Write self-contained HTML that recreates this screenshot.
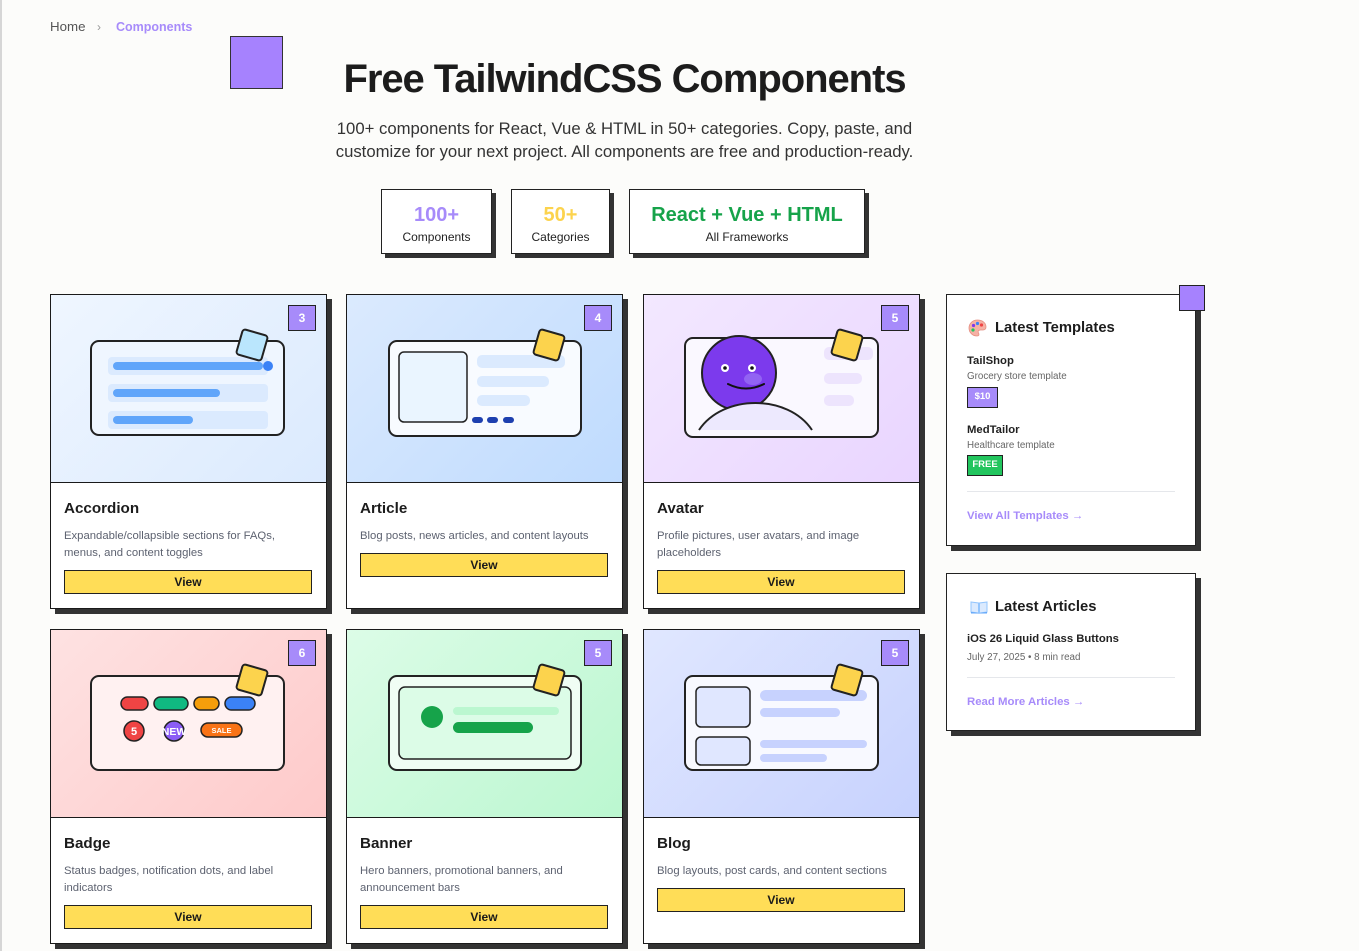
<!DOCTYPE html>
<html><head><meta charset="utf-8">
<style>
*{box-sizing:border-box;margin:0;padding:0}
html,body{width:1359px;height:951px;overflow:hidden}
body{background:#fcfcfa;font-family:"Liberation Sans",Arial,sans-serif;color:#1f1f1f;position:relative}
.abs{position:absolute}
.leftline{left:0;top:0;width:2px;height:951px;background:#d6d6d6}
.crumb{top:19px;left:50px;font-size:13.3px;line-height:16px;color:#555;white-space:nowrap}
.crumb .chev{position:absolute;left:47px;top:0;color:#999;font-size:12px}
.crumb .cur{position:absolute;left:66px;top:0;color:#a78bfa;font-weight:bold;font-size:12.5px}
.hsq{left:230px;top:36px;width:53px;height:53px;background:#a682fe;border:1px solid #333}
.title{left:50px;width:1149px;top:55px;text-align:center;font-size:40px;line-height:48px;font-weight:bold;letter-spacing:-1.05px;color:#1c1c1c;white-space:nowrap}
.sub{left:50px;width:1149px;top:117px;text-align:center;font-size:16.7px;line-height:23px;color:#333;white-space:nowrap}
.stat{top:189px;height:65px;background:#fff;border:1.5px solid #222;box-shadow:4px 4px 0 #333;text-align:center}
.stat .n{position:absolute;left:0;right:0;top:13px;font-size:20px;line-height:24px;font-weight:bold}
.stat .l{position:absolute;left:0;right:0;top:39px;font-size:12px;line-height:16px;color:#222}
.card{width:277px;height:315px;background:#fff;border:1px solid #1a1a1a;box-shadow:5px 5px 0 #333}
.card .img{position:absolute;left:0;top:0;width:275px;height:188px;border-bottom:1px solid #1a1a1a;overflow:hidden}
.card .img svg{position:absolute;left:0;top:0}
.card .num{position:absolute;left:237px;top:10px;width:28px;height:26px;background:#a78bfa;border:1px solid #222;color:#fff;font-weight:bold;font-size:12px;line-height:24px;text-align:center}
.card .body{position:absolute;left:0;top:188px;width:275px;padding:16px 13px 0 13px}
.card h3{font-size:15.2px;line-height:20px;font-weight:bold;color:#1c1c1c}
.card p{margin-top:9px;font-size:11.3px;line-height:17px;color:#5d6270;white-space:nowrap}
.card .btn{margin-top:8px;height:24px;width:248px;background:#ffdd57;border:1px solid #222;text-align:center;font-weight:bold;font-size:12px;line-height:22px;color:#1a1a1a}
.side{left:946px;width:250px;background:#fff;border:1.5px solid #222;box-shadow:5px 5px 0 #333}
.side .t{position:absolute;left:48px;top:23px;font-size:14.8px;line-height:20px;font-weight:bold;color:#1c1c1c;white-space:nowrap}
.side .b{position:absolute;left:20px;font-size:11.3px;line-height:16px;font-weight:bold;color:#222;white-space:nowrap}
.side .s{position:absolute;left:20px;font-size:9.8px;line-height:14px;color:#666;white-space:nowrap}
.side .tag{position:absolute;left:20px;border:1.5px solid #222;color:#fff;font-size:9.5px;font-weight:bold;text-align:center}
.side .hr{position:absolute;left:20px;width:208px;height:1px;background:#e5e7eb}
.side .lnk{position:absolute;left:20px;font-size:11.4px;line-height:16px;font-weight:bold;color:#a78bfa;white-space:nowrap}
.psq{left:1179px;top:285px;width:26px;height:26px;background:#a682fe;border:1px solid #222}
</style></head><body>
<div class="abs leftline"></div>

<div class="abs crumb">Home<span class="chev">›</span><span class="cur">Components</span></div>
<div class="abs hsq"></div>
<div class="abs title">Free TailwindCSS Components</div>
<div class="abs sub">100+ components for React, Vue &amp; HTML in 50+ categories. Copy, paste, and<br>customize for your next project. All components are free and production-ready.</div>

<div class="abs stat" style="left:381px;width:111px"><div class="n" style="color:#a78bfa">100+</div><div class="l">Components</div></div>
<div class="abs stat" style="left:511px;width:99px"><div class="n" style="color:#fcd34d">50+</div><div class="l">Categories</div></div>
<div class="abs stat" style="left:629px;width:236px"><div class="n" style="color:#16a34a">React + Vue + HTML</div><div class="l">All Frameworks</div></div>

<!-- Card 1 Accordion -->
<div class="abs card" style="left:50px;top:294px">
 <div class="img" style="background:linear-gradient(135deg,#eff6ff,#dbeafe)">
  <svg width="275" height="187" viewBox="1 1 275 187">
   <rect x="41" y="47" width="193" height="94" rx="8" fill="#eff6ff" stroke="#222" stroke-width="2"/>
   <rect x="58" y="63" width="160" height="18" rx="4" fill="#dbeafe"/>
   <rect x="58" y="90" width="160" height="18" rx="4" fill="#dbeafe"/>
   <rect x="58" y="117" width="160" height="18" rx="4" fill="#dbeafe"/>
   <rect x="63" y="68" width="150" height="8" rx="4" fill="#60a5fa"/>
   <rect x="63" y="95" width="107" height="8" rx="4" fill="#60a5fa"/>
   <rect x="63" y="122" width="80" height="8" rx="4" fill="#60a5fa"/>
   <circle cx="218" cy="72" r="5" fill="#3b82f6"/>
   <rect x="-13" y="-13" width="26" height="26" rx="3" transform="translate(202 51) rotate(16)" fill="#bae6fd" stroke="#222" stroke-width="2"/>
  </svg>
  <div class="num">3</div>
 </div>
 <div class="body"><h3>Accordion</h3><p>Expandable/collapsible sections for FAQs,<br>menus, and content toggles</p><div class="btn">View</div></div>
</div>

<!-- Card 2 Article -->
<div class="abs card" style="left:346px;top:294px">
 <div class="img" style="background:linear-gradient(135deg,#dbeafe,#bfdbfe)">
  <svg width="275" height="187" viewBox="1 1 275 187">
   <rect x="43" y="47" width="192" height="95" rx="8" fill="#f8fbff" stroke="#222" stroke-width="2"/>
   <rect x="53" y="58" width="68" height="70" rx="5" fill="#eaf5ff" stroke="#222" stroke-width="1.5"/>
   <rect x="131" y="61" width="88" height="13" rx="5" fill="#dbeafe"/>
   <rect x="131" y="82" width="72" height="11" rx="5" fill="#dbeafe"/>
   <rect x="131" y="101" width="53" height="11" rx="5" fill="#dbeafe"/>
   <rect x="126" y="123" width="11" height="6" rx="3" fill="#1e40af"/>
   <rect x="141" y="123" width="11" height="6" rx="3" fill="#1e40af"/>
   <rect x="157" y="123" width="11" height="6" rx="3" fill="#1e40af"/>
   <rect x="-13" y="-13" width="26" height="26" rx="3" transform="translate(203 51) rotate(16)" fill="#fcd34d" stroke="#222" stroke-width="2"/>
  </svg>
  <div class="num">4</div>
 </div>
 <div class="body"><h3>Article</h3><p>Blog posts, news articles, and content layouts</p><div class="btn">View</div></div>
</div>

<!-- Card 3 Avatar -->
<div class="abs card" style="left:643px;top:294px">
 <div class="img" style="background:linear-gradient(135deg,#f3e8ff,#e9d5ff)">
  <svg width="275" height="187" viewBox="1 1 275 187">
   <defs><clipPath id="fr"><rect x="43" y="45" width="191" height="97" rx="7"/></clipPath></defs>
   <rect x="42" y="44" width="193" height="99" rx="8" fill="#faf8ff" stroke="#222" stroke-width="2"/>
   <rect x="181" y="53" width="49" height="13" rx="5" fill="#ede4fd"/>
   <rect x="181" y="79" width="38" height="11" rx="5" fill="#ede4fd"/>
   <rect x="181" y="101" width="30" height="11" rx="5" fill="#ede4fd"/>
   <circle cx="96" cy="79" r="37" fill="#7c3aed" stroke="#222" stroke-width="2"/>
   <ellipse cx="110" cy="85" rx="9" ry="6" fill="#a78bfa" opacity="0.5"/>
   <circle cx="82" cy="74" r="4" fill="#fff"/><circle cx="82" cy="74" r="1.8" fill="#111"/>
   <circle cx="109" cy="74" r="4" fill="#fff"/><circle cx="109" cy="74" r="1.8" fill="#111"/>
   <path d="M85 90 Q103 99 121 90" fill="none" stroke="#111" stroke-width="2" stroke-linecap="round"/>
   <path d="M56 136 C80 100 145 100 169 136 Z" fill="#ede9fe" clip-path="url(#fr)"/>
   <path d="M56 136 C80 100 145 100 169 136" fill="none" stroke="#222" stroke-width="2"/>
   <rect x="-13" y="-13" width="26" height="26" rx="3" transform="translate(204 51) rotate(16)" fill="#fcd34d" stroke="#222" stroke-width="2"/>
  </svg>
  <div class="num">5</div>
 </div>
 <div class="body"><h3>Avatar</h3><p>Profile pictures, user avatars, and image<br>placeholders</p><div class="btn">View</div></div>
</div>

<!-- Card 4 Badge -->
<div class="abs card" style="left:50px;top:629px">
 <div class="img" style="background:linear-gradient(135deg,#fee2e2,#fecaca)">
  <svg width="275" height="187" viewBox="1 1 275 187">
   <rect x="41" y="47" width="193" height="94" rx="8" fill="#fff1f1" stroke="#222" stroke-width="2"/>
   <rect x="71" y="68" width="27" height="13" rx="6.5" fill="#ef4444" stroke="#222" stroke-width="1.5"/>
   <rect x="104" y="68" width="34" height="13" rx="6.5" fill="#10b981" stroke="#222" stroke-width="1.5"/>
   <rect x="144" y="68" width="25" height="13" rx="6.5" fill="#f59e0b" stroke="#222" stroke-width="1.5"/>
   <rect x="175" y="68" width="30" height="13" rx="6.5" fill="#3b82f6" stroke="#222" stroke-width="1.5"/>
   <circle cx="84" cy="102" r="10" fill="#ef4444" stroke="#222" stroke-width="1.5"/>
   <text x="84" y="106" text-anchor="middle" font-family="Liberation Sans, sans-serif" font-weight="bold" font-size="11" fill="#fff">5</text>
   <circle cx="124" cy="102" r="10" fill="#8b5cf6" stroke="#222" stroke-width="1.5"/>
   <text x="124" y="106" text-anchor="middle" font-family="Liberation Sans, sans-serif" font-weight="bold" font-size="10.5" fill="#fff">NEW</text>
   <rect x="151" y="94" width="41" height="14" rx="7" fill="#f97316" stroke="#222" stroke-width="1.5"/>
   <text x="171.5" y="104" text-anchor="middle" font-family="Liberation Sans, sans-serif" font-weight="bold" font-size="7.5" fill="#fff">SALE</text>
   <rect x="-13" y="-13" width="26" height="26" rx="3" transform="translate(202 51) rotate(16)" fill="#fcd34d" stroke="#222" stroke-width="2"/>
  </svg>
  <div class="num">6</div>
 </div>
 <div class="body"><h3>Badge</h3><p>Status badges, notification dots, and label<br>indicators</p><div class="btn">View</div></div>
</div>

<!-- Card 5 Banner -->
<div class="abs card" style="left:346px;top:629px">
 <div class="img" style="background:linear-gradient(135deg,#dcfce7,#bbf7d0)">
  <svg width="275" height="187" viewBox="1 1 275 187">
   <rect x="43" y="47" width="192" height="94" rx="8" fill="#f0fdf4" stroke="#222" stroke-width="2"/>
   <rect x="53" y="58" width="172" height="72" rx="6" fill="#dcfce7" stroke="#222" stroke-width="1.5"/>
   <circle cx="86" cy="88" r="11" fill="#16a34a"/>
   <rect x="107" y="78" width="106" height="8" rx="4" fill="#bbf7d0"/>
   <rect x="107" y="93" width="80" height="11" rx="5.5" fill="#16a34a"/>
   <rect x="-13" y="-13" width="26" height="26" rx="3" transform="translate(203 51) rotate(16)" fill="#fcd34d" stroke="#222" stroke-width="2"/>
  </svg>
  <div class="num">5</div>
 </div>
 <div class="body"><h3>Banner</h3><p>Hero banners, promotional banners, and<br>announcement bars</p><div class="btn">View</div></div>
</div>

<!-- Card 6 Blog -->
<div class="abs card" style="left:643px;top:629px">
 <div class="img" style="background:linear-gradient(135deg,#e0e7ff,#c7d2fe)">
  <svg width="275" height="187" viewBox="1 1 275 187">
   <rect x="42" y="47" width="193" height="94" rx="8" fill="#f8f9ff" stroke="#222" stroke-width="2"/>
   <rect x="53" y="58" width="54" height="40" rx="5" fill="#e0e7ff" stroke="#222" stroke-width="1.5"/>
   <rect x="53" y="108" width="54" height="28" rx="5" fill="#e0e7ff" stroke="#222" stroke-width="1.5"/>
   <rect x="117" y="61" width="107" height="11" rx="5.5" fill="#c7d2fe"/>
   <rect x="117" y="79" width="80" height="9" rx="4.5" fill="#c7d2fe"/>
   <rect x="117" y="111" width="107" height="8" rx="4" fill="#c7d2fe"/>
   <rect x="117" y="125" width="67" height="8" rx="4" fill="#c7d2fe"/>
   <rect x="-13" y="-13" width="26" height="26" rx="3" transform="translate(204 51) rotate(16)" fill="#fcd34d" stroke="#222" stroke-width="2"/>
  </svg>
  <div class="num">5</div>
 </div>
 <div class="body"><h3>Blog</h3><p>Blog layouts, post cards, and content sections</p><div class="btn">View</div></div>
</div>

<!-- Sidebar: Latest Templates -->
<div class="abs side" style="top:294px;height:252px">
 <svg class="abs" style="left:21px;top:24px" width="19" height="18" viewBox="0 0 19 18">
  <path d="M9.5 1 C4 1 1 5 1 9 C1 13.5 4.5 17 9 17 C11 17 11.5 15.5 10.5 14 C9.5 12.5 10.5 11 12.5 11 L15 11 C17 11 18 9.5 18 8 C18 4 14.5 1 9.5 1 Z" fill="#f5b1a5" stroke="#e58f82" stroke-width="0.8"/>
  <circle cx="5.5" cy="6.5" r="1.6" fill="#7c3aed"/>
  <circle cx="9.5" cy="4.5" r="1.6" fill="#3b82f6"/>
  <circle cx="13.5" cy="6" r="1.6" fill="#ef4444"/>
  <circle cx="5" cy="11" r="1.6" fill="#22c55e"/>
 </svg>
 <div class="t">Latest Templates</div>
 <div class="b" style="top:58px">TailShop</div>
 <div class="s" style="top:75px">Grocery store template</div>
 <div class="tag" style="top:92px;width:31px;height:21px;line-height:18px;background:#a78bfa">$10</div>
 <div class="b" style="top:127px">MedTailor</div>
 <div class="s" style="top:144px">Healthcare template</div>
 <div class="tag" style="top:160px;width:36px;height:21px;line-height:18px;background:#22c55e">FREE</div>
 <div class="hr" style="top:196px"></div>
 <div class="lnk" style="top:213px">View All Templates →</div>
</div>
<div class="abs psq"></div>

<!-- Sidebar: Latest Articles -->
<div class="abs side" style="top:573px;height:158px">
 <svg class="abs" style="left:23px;top:26px" width="18" height="14" viewBox="0 0 18 14">
  <path d="M1 2 L8.5 3 L8.5 13 L1 12 Z" fill="#dbeafe" stroke="#93c5fd" stroke-width="1"/>
  <path d="M17 2 L9.5 3 L9.5 13 L17 12 Z" fill="#dbeafe" stroke="#93c5fd" stroke-width="1"/>
  <path d="M1 12 L8.5 13 L9.5 13 L17 12 L17 13.5 L1 13.5 Z" fill="#60a5fa"/>
 </svg>
 <div class="t">Latest Articles</div>
 <div class="b" style="top:57px">iOS 26 Liquid Glass Buttons</div>
 <div class="s" style="top:77px;font-size:9.8px">July 27, 2025 • 8 min read</div>
 <div class="hr" style="top:103px"></div>
 <div class="lnk" style="top:120px">Read More Articles →</div>
</div>
</body></html>
